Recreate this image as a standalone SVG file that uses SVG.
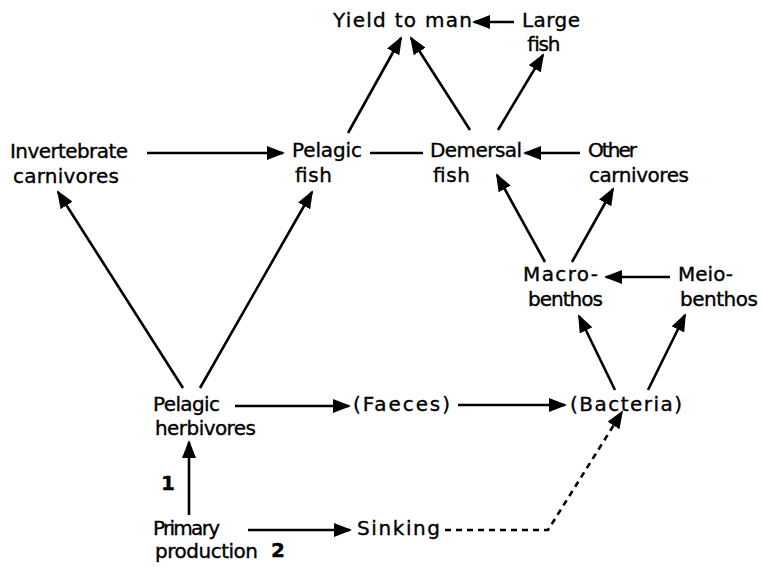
<svg xmlns="http://www.w3.org/2000/svg" width="762" height="567" viewBox="0 0 762 567">
<defs>
<style>
text{font-family:"DejaVu Sans","Liberation Sans",sans-serif;font-size:20px;fill:#000;stroke:#000;stroke-width:0.35}
.c{fill:none;stroke:#000;stroke-width:2.6}
.a{marker-end:url(#ah)}
.d{stroke-dasharray:6 5}
</style>
<marker id="ah" markerUnits="userSpaceOnUse" markerWidth="18" markerHeight="14" viewBox="0 0 18 14" refX="16" refY="7" orient="auto">
<path d="M0,0 L18,7 L0,14 z" fill="#000"/>
</marker>
</defs>
<rect width="762" height="567" fill="#fff"/>
<g id="connectors">
<path class="c a" d="M514,22 L474,22"/>
<path class="c a" d="M348,133 L401,38"/>
<path class="c a" d="M470,130 L411,38"/>
<path class="c a" d="M498,130 L543,55"/>
<path class="c a" d="M147,153 L283,153"/>
<path class="c" d="M370,153 L423,153"/>
<path class="c a" d="M580,153 L525,153"/>
<path class="c a" d="M545,262 L497,175"/>
<path class="c a" d="M572,262 L613,189"/>
<path class="c a" d="M670,277 L606,277"/>
<path class="c a" d="M615,390 L579,316"/>
<path class="c a" d="M648,390 L685,315"/>
<path class="c a" d="M183,388 L58,192"/>
<path class="c a" d="M200,388 L312,192"/>
<path class="c a" d="M235,406 L349,406"/>
<path class="c a" d="M458,405 L565,405"/>
<path class="c a" d="M189,515 L189,442"/>
<path class="c a" d="M248,530 L350,530"/>
<path class="c a d" d="M445,530 L548,530 L622,412"/>
</g>
<g id="yield"><text x="333" y="27" textLength="139">Yield to man</text></g>
<g id="large"><text x="522" y="27" textLength="58">Large</text><text x="526" y="51" textLength="33">fish</text></g>
<g id="invert"><text x="10" y="158" textLength="118">Invertebrate</text><text x="13" y="183" textLength="106">carnivores</text></g>
<g id="pelfish"><text x="292" y="157" textLength="70">Pelagic</text><text x="295" y="182" textLength="37">fish</text></g>
<g id="demersal"><text x="430" y="157" textLength="92">Demersal</text><text x="433" y="182" textLength="37">fish</text></g>
<g id="other"><text x="588" y="157" textLength="49">Other</text><text x="589" y="182" textLength="100">carnivores</text></g>
<g id="macro"><text x="523" y="281" textLength="75">Macro-</text><text x="528" y="306" textLength="75">benthos</text></g>
<g id="meio"><text x="678" y="281" textLength="55">Meio-</text><text x="680" y="306" textLength="78">benthos</text></g>
<g id="pelherb"><text x="153" y="411" textLength="67">Pelagic</text><text x="155" y="435" textLength="101">herbivores</text></g>
<g id="faeces"><text x="353" y="411" textLength="97">(Faeces)</text></g>
<g id="bacteria"><text x="570" y="411" textLength="112">(Bacteria)</text></g>
<g id="primary"><text x="153" y="535" textLength="67">Primary</text><text x="155" y="558" textLength="103">production</text></g>
<g id="sinking"><text x="357" y="535" textLength="83">Sinking</text></g>
<g id="labels"><text x="161" y="490" font-weight="bold">1</text><text x="271" y="557" font-weight="bold">2</text></g>
</svg>
